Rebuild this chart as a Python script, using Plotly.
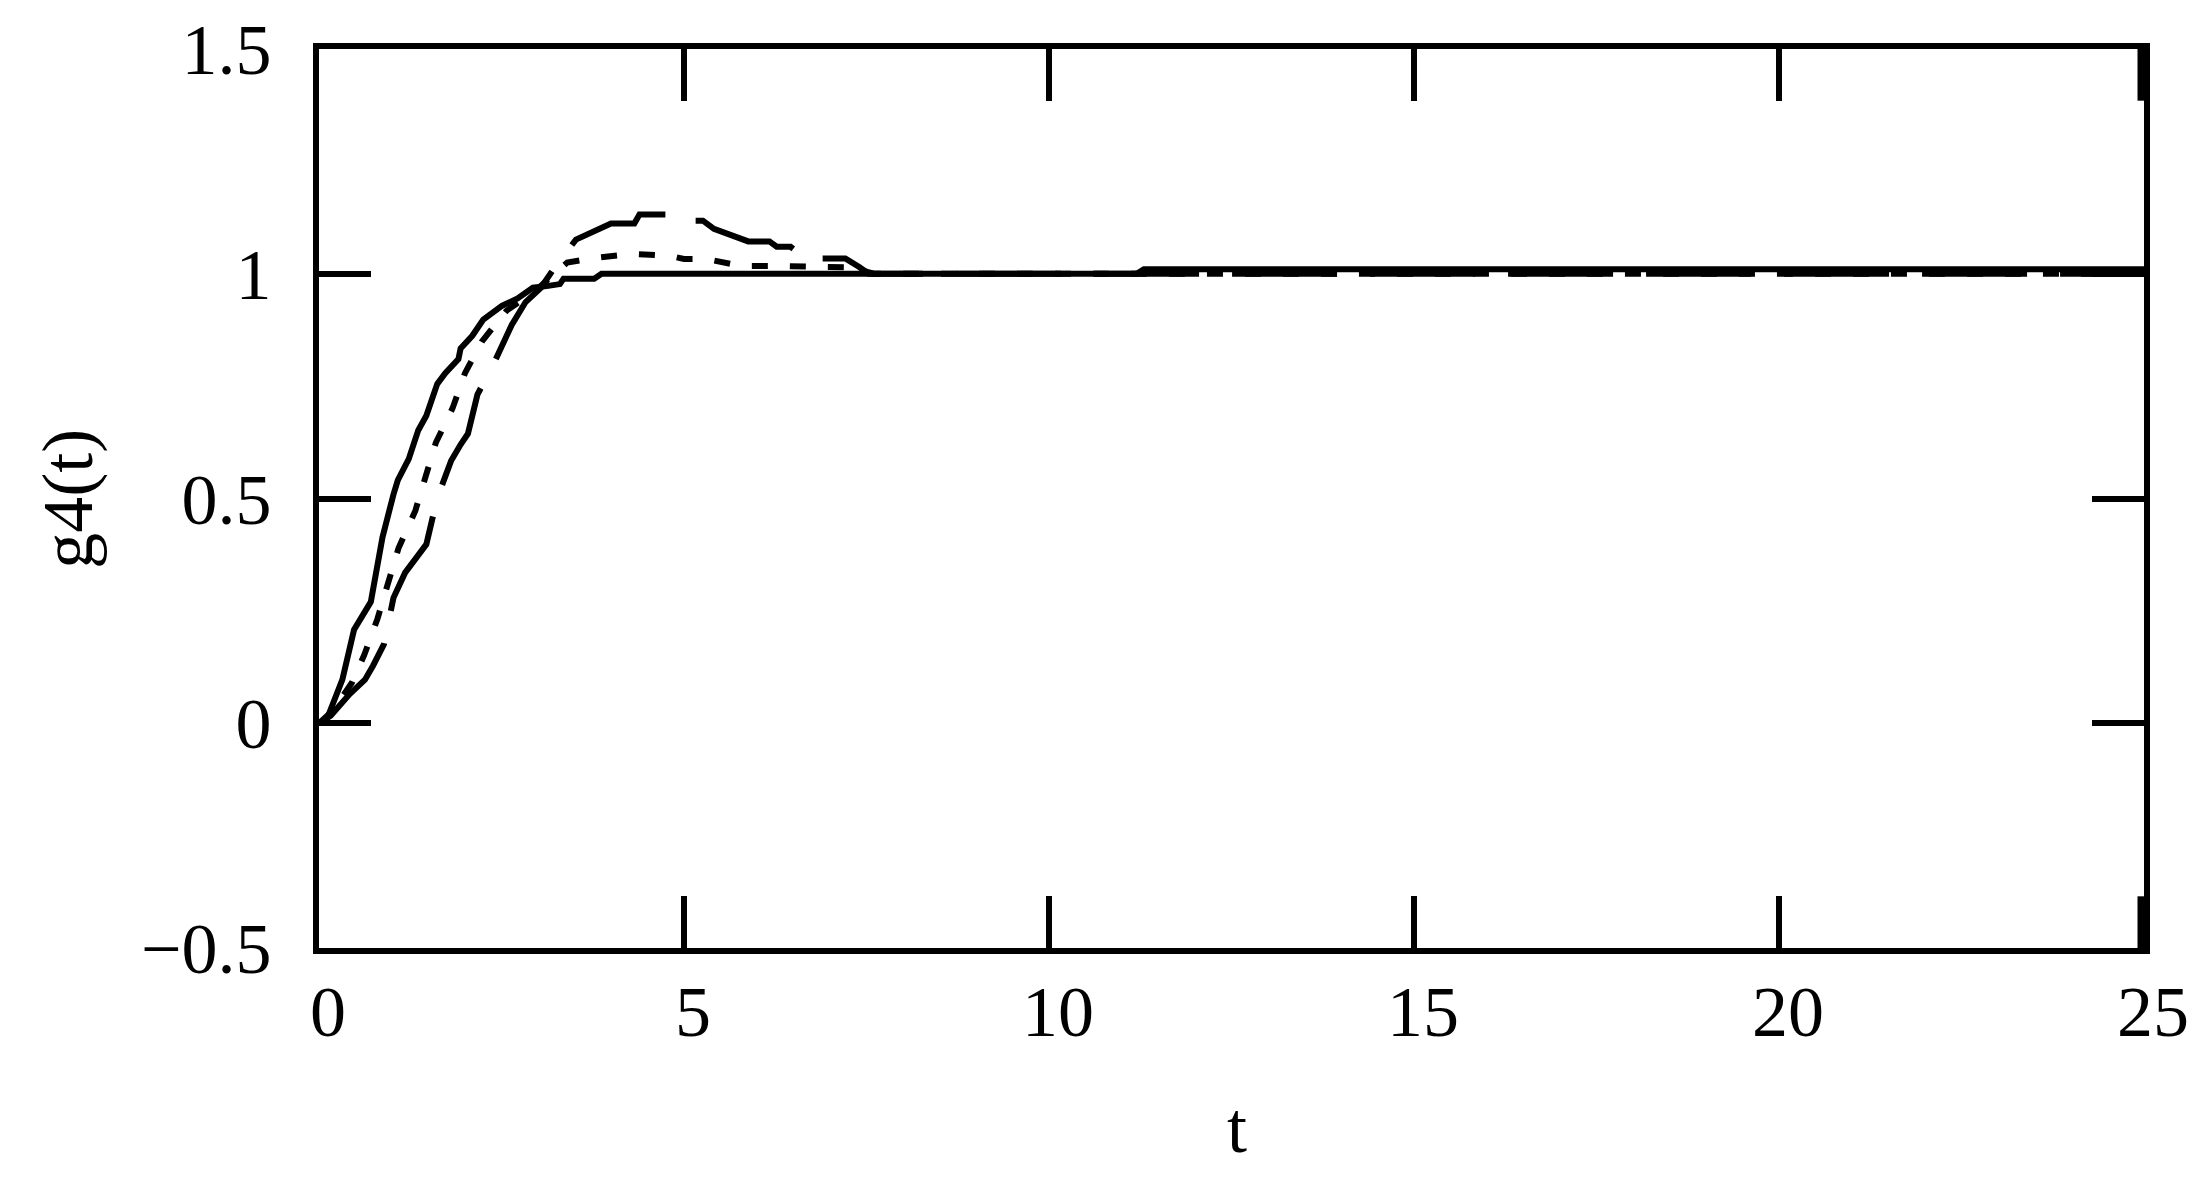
import plotly.graph_objects as go

# step responses
t_solid = [0, 0.11, 0.32, 0.48, 0.71, 0.76, 0.87, 1.02, 1.08, 1.23, 1.36, 1.47, 1.62, 1.73,
           1.91, 1.94, 2.10, 2.25, 2.41, 2.51, 2.72, 2.93, 3.14, 3.30, 3.35, 3.77, 3.87,
           11.2, 11.3, 25]
g_solid = [0, 0.01, 0.097, 0.208, 0.27, 0.32, 0.414, 0.509, 0.541, 0.588, 0.652, 0.684, 0.755, 0.779,
           0.81, 0.834, 0.862, 0.898, 0.918, 0.929, 0.945, 0.969, 0.973, 0.977, 0.989, 0.989, 1.0,
           1.0, 1.01, 1.01]

t_short = [0, 0.2, 0.45, 0.62, 0.80, 0.95, 1.09, 1.32, 1.46, 1.60, 1.83, 2.00, 2.23, 2.57, 2.97,
           3.40, 3.82, 4.29, 4.80, 5.0, 5.3, 5.6, 5.8, 6.3, 6.8, 7.3, 7.6, 25]
g_short = [0, 0.03, 0.09, 0.152, 0.232, 0.315, 0.39, 0.473, 0.549, 0.624, 0.701, 0.779, 0.849, 0.918, 0.963,
           1.025, 1.036, 1.044, 1.04, 1.033, 1.033, 1.025, 1.017, 1.017, 1.017, 1.014, 1.0, 1.0]

t_long = [0, 0.16, 0.42, 0.63, 0.74, 0.89, 1.02, 1.18, 1.36, 1.47, 1.62, 1.81, 1.94, 2.04, 2.17,
          2.41, 2.64, 2.83, 3.04, 3.24, 3.52, 4.00, 4.32, 4.39, 4.81, 4.89, 5.26, 5.41, 5.88,
          6.17, 6.27, 6.46, 6.59, 6.82, 6.88, 7.21, 7.40, 7.53, 25]
g_long = [0, 0.017, 0.065, 0.097, 0.128, 0.176, 0.279, 0.335, 0.374, 0.398, 0.501, 0.584, 0.62, 0.644, 0.731,
          0.806, 0.886, 0.937, 0.969, 1.017, 1.076, 1.112, 1.112, 1.132, 1.132, 1.118, 1.118, 1.10, 1.072,
          1.072, 1.06, 1.06, 1.044, 1.044, 1.034, 1.034, 1.015, 1.0, 1.0]

x_ticks = [0, 5, 10, 15, 20, 25]
y_ticks = [-0.5, 0, 0.5, 1, 1.5]
edge_marks = [(1.385, 1.5), (-0.5, -0.385)]  # thick bits on the right frame

FONT = "Liberation Serif"

fig = go.Figure()
fig.add_trace(go.Scatter(x=t_long, y=g_long, mode="lines",
                         line=dict(color="black", width=6, dash="105px,33px")))
fig.add_trace(go.Scatter(x=t_short, y=g_short, mode="lines",
                         line=dict(color="black", width=6, dash="16px,22px")))
fig.add_trace(go.Scatter(x=t_solid, y=g_solid, mode="lines",
                         line=dict(color="black", width=6)))

for y0, y1 in edge_marks:
    fig.add_shape(type="line", xref="x", yref="y", x0=25, x1=25, y0=y0, y1=y1,
                  line=dict(color="black", width=13))

axis_style = dict(showgrid=False, zeroline=False, showline=True, linecolor="black", linewidth=6,
                  mirror="ticks", ticks="inside", ticklen=52, tickwidth=6, tickcolor="black",
                  ticklabeloverflow="allow", automargin=False,
                  tickfont=dict(family=FONT, size=72, color="black"))

fig.update_xaxes(range=[0, 25], tickvals=x_ticks, ticklabelstandoff=-4, ticklabelshift=9, **axis_style)
fig.update_yaxes(range=[-0.5, 1.5], tickvals=y_ticks, ticklabelstandoff=27, **axis_style)

fig.add_annotation(text="t", xref="paper", yref="paper", x=0.503, y=-0.2,
                   xanchor="center", yanchor="middle",
                   showarrow=False, font=dict(family=FONT, size=72, color="black"))
fig.add_annotation(text="g4(t)", xref="paper", yref="paper", x=-0.138, y=0.5, textangle=-90,
                   xanchor="center", yanchor="middle",
                   showarrow=False, font=dict(family=FONT, size=72, color="black"))

fig.update_layout(width=2208, height=1186, showlegend=False,
                  plot_bgcolor="white", paper_bgcolor="white",
                  margin=dict(l=311, r=72, t=41, b=246))

fig.write_html("out.html")
